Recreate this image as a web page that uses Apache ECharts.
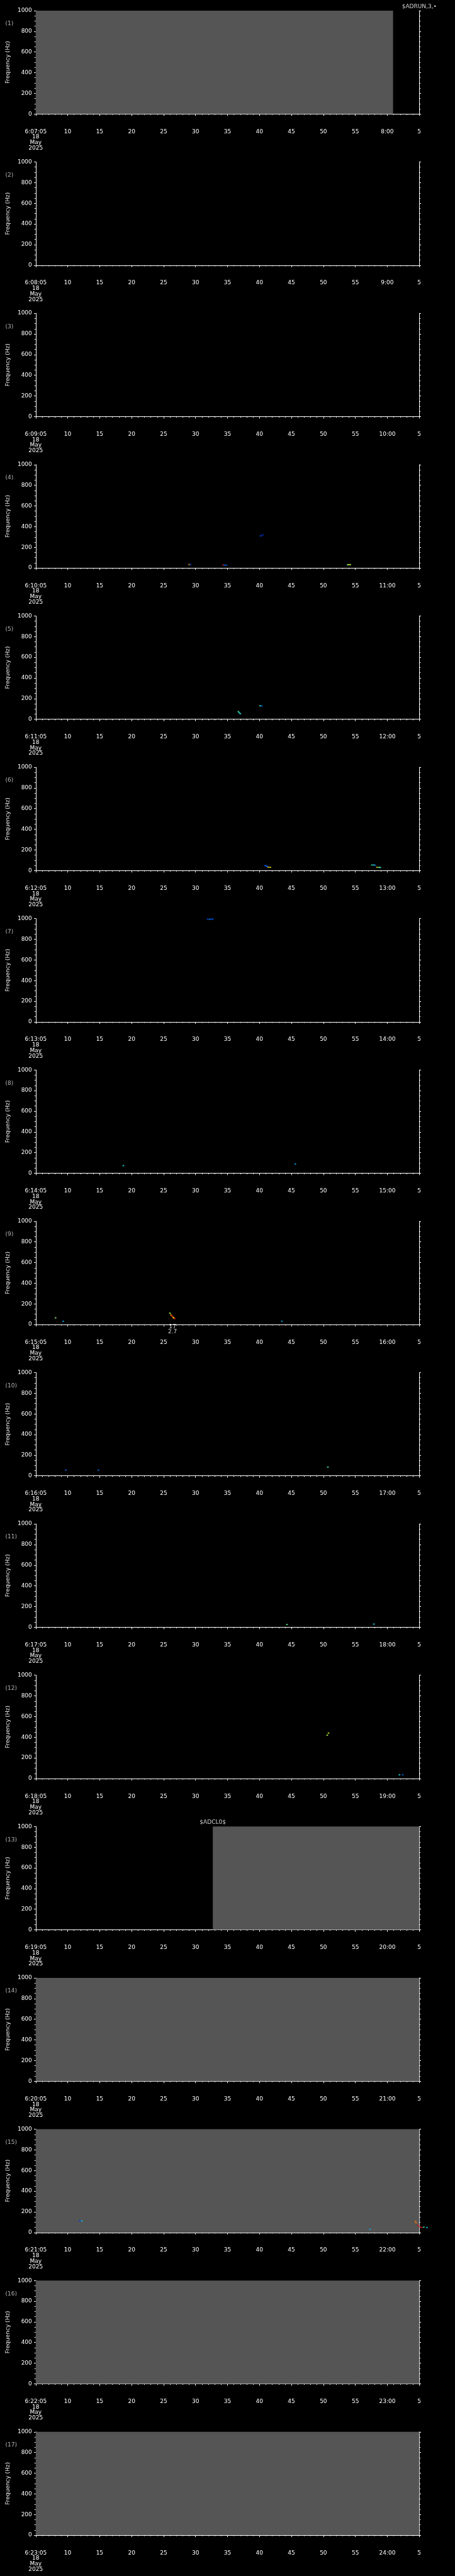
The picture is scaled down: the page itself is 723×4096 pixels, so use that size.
<!DOCTYPE html>
<html><head><meta charset="utf-8">
<script src="https://cdn.jsdelivr.net/npm/echarts@6/dist/echarts.min.js"></script>
<style>html,body{margin:0;padding:0;background:#000;} #c{width:723px;height:4096px;}</style>
</head><body><div id="c"></div>
<script>
// ---------- DATA ----------
const panelLabels = ['(1)','(2)','(3)','(4)','(5)','(6)','(7)','(8)','(9)','(10)','(11)','(12)','(13)','(14)','(15)','(16)','(17)'];
const startHour = 6;
const startMinutes = [7,8,9,10,11,12,13,14,15,16,17,18,19,20,21,22,23];
const dateLines = ['18','May','2025'];
const timeTicksSec = [0,5,10,15,20,25,30,35,40,45,50,55,60];   // seconds after panel start (xx:05)
const freqTicks = [0,200,400,600,800,1000];
// grey = data coverage, [startSec, endSec]
const coverage = [
  [[0,55.9]], [], [], [], [], [], [], [], [], [], [], [],
  [[27.7,60]], [[0,60]], [[0,60]], [[0,60]], [[0,60]]
];
// detections: [sec, Hz, intensity 0..1]
const marks = [
  [], [], [],
  [[24.0,33,0.8],[24.2,33,0.15],[29.3,28,1.0],[29.5,27,0.2],[29.8,26,0.2],[35.2,310,0.15],[35.5,320,0.1],[48.8,30,0.5],[49.0,32,0.7],[49.2,32,0.6]],
  [[31.7,74,0.45],[31.85,63,0.45],[32.0,53,0.4],[35.1,130,0.45],[35.35,128,0.2]],
  [[35.9,49,0.2],[36.1,45,0.15],[36.2,38,0.2],[36.4,32,0.7],[36.7,32,0.7],[52.6,54,0.45],[52.9,54,0.45],[53.1,51,0.2],[53.4,32,0.7],[53.7,31,0.5],[53.9,30,0.45]],
  [[26.9,995,0.15],[27.2,993,0.25],[27.5,995,0.15],[27.7,996,0.15]],
  [[13.7,73,0.4],[40.6,90,0.3]],
  [[3.1,65,0.55],[4.3,31,0.3],[21.0,110,0.6],[21.15,93,0.65],[21.25,86,1.0],[21.35,80,0.95],[21.5,70,0.75],[21.6,62,0.75],[21.75,57,1.0],[38.5,32,0.3]],
  [[4.7,55,0.2],[9.8,55,0.2],[45.7,85,0.5]],
  [[39.3,26,0.5],[52.9,30,0.4]],
  [[45.6,420,0.6],[45.8,440,0.65],[56.9,36,0.4],[57.4,36,0.2]],
  [], [],
  [[6.9,115,0.1],[7.2,112,0.35],[52.3,32,0.3],[59.4,108,0.85],[59.5,93,0.85],[59.8,69,1.0],[60.1,56,1.0],[60.4,48,1.0],[60.7,52,0.45],[61.2,48,0.35]],
  [], []
];
// text notes: [panel, sec, Hz, text]
const notes = [
  [0, 60, 1040, '$ADRUN,3,\u2022'],
  [12, 27.7, 1040, '$ADCL0$'],
  [8, 21.4, -45, '17\n2.7']
];
const jet = ['#0000b4','#0040ff','#0090ff','#00e0ff','#60ffa0','#d0ff30','#ffd000','#ff6000','#e00000'];

// ---------- LAYOUT ----------
const S = 0.705;
const N = panelLabels.length;
const pitch = 341.3*S, top0 = 24*S, plotH = 233*S, left = 80*S, plotW = 865*S;
const FONT = 'DejaVu Sans';
const grid=[], xAxis=[], yAxis=[], series=[], graphic=[], scatterIdx=[];

function pad2(n){return (n<10?'0':'')+n;}
for (let k=0;k<N;k++){
  const T = top0 + k*pitch;
  grid.push({left:left, top:T, width:plotW, height:plotH, containLabel:false});
  const mm = startMinutes[k];
  xAxis.push({
    type:'value', gridIndex:k, min:timeTicksSec[0], max:timeTicksSec[timeTicksSec.length-1], interval:5,
    position:'bottom', offset:24*S,
    axisLine:{show:true, lineStyle:{color:'#fff', width:1}},
    axisTick:{show:true, length:3, lineStyle:{color:'#fff', width:1}},
    minorTick:{show:true, splitNumber:5, length:1.6, lineStyle:{color:'#fff', width:1}},
    splitLine:{show:false},
    axisLabel:{color:'#fff', fontSize:9, fontFamily:FONT, margin:7, lineHeight:8.7, showMinLabel:true, showMaxLabel:true,
      formatter:function(v){
        if (v===0) return startHour+':'+pad2(mm)+':05\n'+dateLines.join('\n');
        if (v===55) return (mm+1)+':00';
        if (v===60) return '5';
        return String(v+5);
      }}
  });
  const yBase = {
    type:'value', gridIndex:k, min:freqTicks[0], max:freqTicks[freqTicks.length-1], interval:200,
    axisLine:{show:true, lineStyle:{color:'#fff', width:1}},
    axisTick:{show:true, length:2.8, lineStyle:{color:'#fff'}},
    minorTick:{show:true, splitNumber:4, length:2, lineStyle:{color:'#fff'}},
    splitLine:{show:false}
  };
  yAxis.push(Object.assign({}, yBase, {position:'left',
    axisLabel:{color:'#fff', fontSize:9, fontFamily:FONT, margin:6, formatter:function(v){return String(v);}},
    name:'Frequency (Hz)', nameLocation:'middle', nameGap:38,
    nameTextStyle:{color:'#e8e8e8', fontSize:9, fontFamily:FONT}}));
  yAxis.push(Object.assign({}, yBase, {position:'right', axisLabel:{show:false}}));

  series.push({
    type:'custom', xAxisIndex:k, yAxisIndex:2*k, data:coverage[k], silent:true, z:1,
    renderItem:function(params, api){
      const p0 = api.coord([api.value(0), freqTicks[0]]);
      const p1 = api.coord([api.value(1), freqTicks[freqTicks.length-1]]);
      return {type:'rect', shape:{x:p0[0], y:p1[1], width:p1[0]-p0[0], height:p0[1]-p1[1]}, style:{fill:'#555555'}};
    }
  });
  scatterIdx.push(series.length);
  series.push({
    type:'scatter', xAxisIndex:k, yAxisIndex:2*k, data:marks[k], symbol:'rect', symbolSize:[2.6,2],
    clip:false, z:5, silent:true
  });
  const nd = notes.filter(n=>n[0]===k).map(n=>({value:[n[1],n[2]], name:n[3]}));
  if (nd.length) series.push({
    type:'scatter', xAxisIndex:k, yAxisIndex:2*k, data:nd, symbolSize:0, clip:false, z:6, silent:true,
    label:{show:true, position:'inside', color:'#fff', fontSize:9, fontFamily:FONT, lineHeight:8.7, formatter:'{b}'}
  });
  graphic.push({type:'text', left:12*S, top:T+23.5*S, style:{text:panelLabels[k], fill:'#b4b4b4', font:'9px "DejaVu Sans"', verticalAlign:'middle'}});
}

const chart = echarts.init(document.getElementById('c'), null, {renderer:'canvas'});
chart.setOption({
  backgroundColor:'#000', animation:false,
  grid, xAxis, yAxis, series, graphic,
  visualMap:{type:'continuous', show:false, dimension:2, min:0, max:1, seriesIndex:scatterIdx, inRange:{color:jet}}
});
</script></body></html>
